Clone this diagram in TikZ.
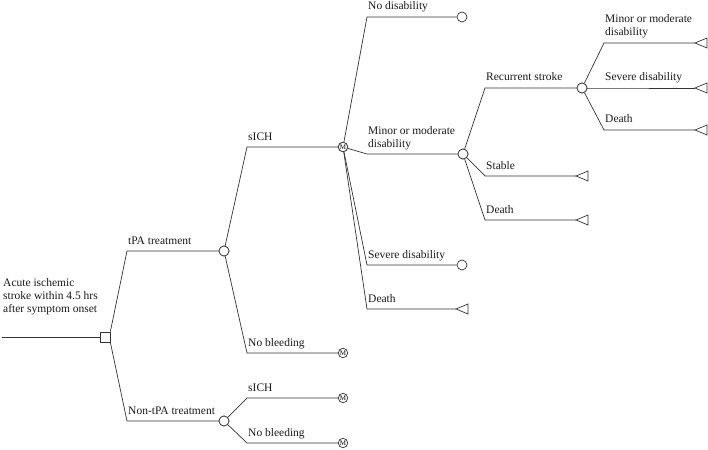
\documentclass[tikz,border=0pt]{standalone}
\usepackage{fontspec}
\setmainfont{Liberation Serif}
\tikzset{
  br/.style={draw=black!80, line width=0.7pt},
  chance/.style={circle, draw=black!80, line width=0.7pt, minimum size=10pt, inner sep=0pt, fill=white},
  markov/.style={circle, draw=black!80, line width=0.7pt, minimum size=9.5pt, inner sep=0pt, fill=white, font=\fontsize{7}{7}\selectfont},
  decision/.style={rectangle, draw=black!80, line width=0.7pt, minimum size=10pt, inner sep=0pt, fill=white},
  lbl/.style={anchor=base west, inner sep=0pt, font=\fontsize{11.5}{13}\selectfont, align=left, text=black!90}
}
\newcommand\termtri[1]{\draw[br] (#1) -- ++(12,-5) -- ++(0,10) -- cycle;}
\begin{document}
\begin{tikzpicture}[x=1pt,y=-1pt]
\useasboundingbox (0,0) rectangle (708,449);
% nodes
\coordinate (root) at (2,337);
\node[decision] (sq) at (105,337) {};
\node[chance] (c1) at (224,251) {};
\node[chance] (c2) at (224,421) {};
\node[markov] (m1) at (343,147) {M};
\node[markov] (m2) at (343,353) {M};
\node[markov] (m3) at (343,398) {M};
\node[markov] (m4) at (343,443) {M};
\node[chance] (e1) at (462,17) {};
\node[chance] (c3) at (463,154) {};
\node[chance] (e2) at (462,265) {};
\coordinate (t1) at (456,309);
\node[chance] (c4) at (582,88) {};
\coordinate (t2) at (576,176);
\coordinate (t3) at (576,220);
\coordinate (t4) at (695,43);
\coordinate (t5) at (695,88);
\coordinate (t6) at (695,130);
% connectors
\draw[br] (root) -- (sq);
\draw[br] (sq.north east) -- (127,251) -- (c1);
\draw[br] (sq.south east) -- (127,421) -- (c2);
\draw[br] (c1) -- (247,147) -- (m1);
\draw[br] (c1) -- (247,353) -- (m2);
\draw[br] (c2) -- (247,398) -- (m3);
\draw[br] (c2) -- (247,443) -- (m4);
\draw[br] (m1) -- (367,17) -- (e1);
\draw[br] (m1) -- (367,154) -- (c3);
\draw[br] (m1) -- (367,265) -- (e2);
\draw[br] (m1) -- (367,309) -- (t1);
\draw[br] (c3) -- (485,88) -- (c4);
\draw[br] (c3) -- (485,176) -- (t2);
\draw[br] (c3) -- (485,220) -- (t3);
\draw[br] (c4) -- (604,43) -- (t4);
\draw[br] (c4) -- (604,88) -- (t5);
\draw[br] (c4) -- (604,130) -- (t6);
% redraw shapes on top
\node[decision] at (sq) {};
\node[chance] at (c1) {};
\node[chance] at (c2) {};
\node[chance] at (c3) {};
\node[chance] at (c4) {};
\node[markov] at (m1) {M};
\termtri{t1}
\termtri{t2}
\termtri{t3}
\termtri{t4}
\termtri{t5}
\termtri{t6}
% labels (base anchor = last line baseline)
\node[lbl] (l0) at (3,312) {Acute ischemic\\stroke within 4.5 hrs\\after symptom onset};
\node[lbl] (l1) at (128,244) {tPA treatment};
\node[lbl] (l2) at (128,414) {Non-tPA treatment};
\node[lbl] (l3) at (248,140) {sICH};
\node[lbl] (l4) at (248,346) {No bleeding};
\node[lbl] (l5) at (248,391) {sICH};
\node[lbl] (l6) at (248,436) {No bleeding};
\node[lbl] (l7) at (368,10) {No disability};
\node[lbl] (l8) at (368,147) {Minor or moderate\\disability};
\node[lbl] (l9) at (368,258) {Severe disability};
\node[lbl] (l10) at (368,302) {Death};
\node[lbl] (l11) at (486,81) {Recurrent stroke};
\node[lbl] (l12) at (486,169) {Stable};
\node[lbl] (l13) at (486,213) {Death};
\node[lbl] (l14) at (605,36) {Minor or moderate\\disability};
\node[lbl] (l15) at (605,81) {Severe disability};
\node[lbl] (l16) at (605,123) {Death};
\end{tikzpicture}
\end{document}
